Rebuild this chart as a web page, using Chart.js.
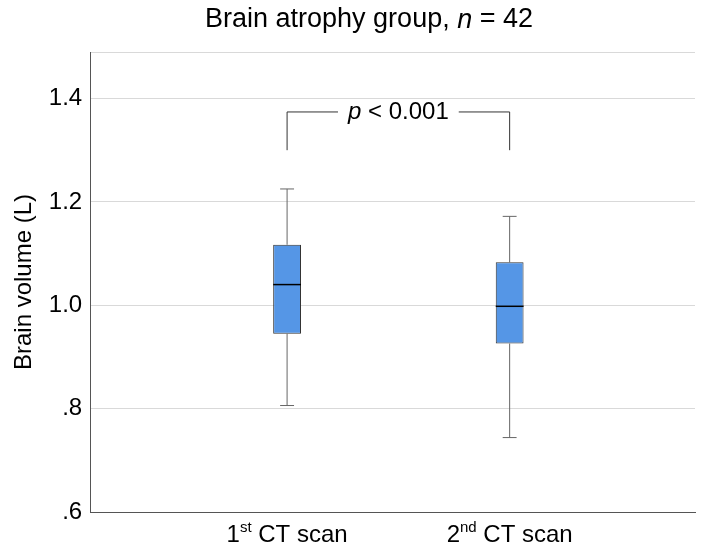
<!DOCTYPE html>
<html>
<head>
<meta charset="utf-8">
<script src="https://cdn.jsdelivr.net/npm/chart.js@4"></script>
<style>
  body { margin: 0; background: white; }
  #wrap { width: 709px; height: 553px; }
</style>
</head>
<body>
<div id="wrap"><canvas id="boxChart"></canvas></div>
<script>
// box plot values
var scans = ['1st CT scan', '2nd CT scan'];
var scanOrdinals = ['1', '2'];
var scanSuffixes = ['st', 'nd'];
var whiskerLow = [0.806, 0.744];
var quartile1 = [0.945, 0.926];
var medians = [1.040, 0.998];
var quartile3 = [1.117, 1.083];
var whiskerHigh = [1.225, 1.172];
var pText = 'p < 0.001';

Chart.defaults.font.family = "'Liberation Sans', Arial, sans-serif";
Chart.defaults.color = '#000';

// whiskers, medians, x labels, title and the p bracket
var boxExtras = {
    id: 'boxExtras',
    afterDatasetsDraw: function(chart) {
        var ctx = chart.ctx;
        var ys = chart.scales.y;
        var meta = chart.getDatasetMeta(0);
        ctx.save();
        for (var i = 0; i < scans.length; i++) {
            var bar = meta.data[i];
            var cx = bar.x, half = bar.width / 2;
            ctx.strokeStyle = '#666';
            ctx.lineWidth = 1;
            ctx.beginPath();
            ctx.moveTo(cx, ys.getPixelForValue(quartile3[i]));
            ctx.lineTo(cx, ys.getPixelForValue(whiskerHigh[i]));
            ctx.moveTo(cx, ys.getPixelForValue(quartile1[i]));
            ctx.lineTo(cx, ys.getPixelForValue(whiskerLow[i]));
            ctx.moveTo(cx - half / 2, ys.getPixelForValue(whiskerHigh[i]));
            ctx.lineTo(cx + half / 2, ys.getPixelForValue(whiskerHigh[i]));
            ctx.moveTo(cx - half / 2, ys.getPixelForValue(whiskerLow[i]));
            ctx.lineTo(cx + half / 2, ys.getPixelForValue(whiskerLow[i]));
            ctx.stroke();
            ctx.strokeStyle = '#000';
            ctx.lineWidth = 1.5;
            ctx.beginPath();
            ctx.moveTo(cx - half, ys.getPixelForValue(medians[i]));
            ctx.lineTo(cx + half, ys.getPixelForValue(medians[i]));
            ctx.stroke();

            // x label with superscript
            var ly = chart.chartArea.bottom + 30;
            ctx.fillStyle = '#000';
            ctx.textBaseline = 'alphabetic';
            ctx.font = "24px 'Liberation Sans', Arial, sans-serif";
            var w1 = ctx.measureText(scanOrdinals[i]).width;
            var rest = ' CT scan';
            var w3 = ctx.measureText(rest).width;
            ctx.font = "15px 'Liberation Sans', Arial, sans-serif";
            var w2 = ctx.measureText(scanSuffixes[i]).width;
            var x0 = cx - (w1 + w2 + w3) / 2;
            ctx.textAlign = 'left';
            ctx.font = "24px 'Liberation Sans', Arial, sans-serif";
            ctx.fillText(scanOrdinals[i], x0, ly);
            ctx.fillText(rest, x0 + w1 + w2, ly);
            ctx.font = "15px 'Liberation Sans', Arial, sans-serif";
            ctx.fillText(scanSuffixes[i], x0 + w1, ly - 10);
        }

        // significance bracket
        var xa = meta.data[0].x, xb = meta.data[1].x;
        var yTop = ys.getPixelForValue(1.374), yBot = ys.getPixelForValue(1.30);
        var mid = (xa + xb) / 2;
        ctx.font = "24px 'Liberation Sans', Arial, sans-serif";
        var pw = ctx.measureText(pText).width;
        ctx.strokeStyle = '#333';
        ctx.lineWidth = 1;
        ctx.beginPath();
        ctx.moveTo(xa, yBot); ctx.lineTo(xa, yTop); ctx.lineTo(mid - pw / 2 - 10, yTop);
        ctx.moveTo(mid + pw / 2 + 10, yTop); ctx.lineTo(xb, yTop); ctx.lineTo(xb, yBot);
        ctx.stroke();
        ctx.textAlign = 'left';
        ctx.textBaseline = 'middle';
        var px = mid - pw / 2;
        ctx.font = "italic 24px 'Liberation Sans', Arial, sans-serif";
        ctx.fillText('p', px, yTop);
        var pwid = ctx.measureText('p').width;
        ctx.font = "24px 'Liberation Sans', Arial, sans-serif";
        ctx.fillText(pText.slice(1), px + pwid, yTop);

        // title with italic n
        var tParts = ['Brain atrophy group, ', 'n', ' = 42'];
        ctx.font = "27px 'Liberation Sans', Arial, sans-serif";
        var a = ctx.measureText(tParts[0]).width, c = ctx.measureText(tParts[2]).width;
        ctx.font = "italic 27px 'Liberation Sans', Arial, sans-serif";
        var b = ctx.measureText(tParts[1]).width;
        var tx = 369 - (a + b + c) / 2;
        ctx.font = "27px 'Liberation Sans', Arial, sans-serif";
        ctx.fillText(tParts[0], tx, 20);
        ctx.fillText(tParts[2], tx + a + b, 20);
        ctx.font = "italic 27px 'Liberation Sans', Arial, sans-serif";
        ctx.fillText(tParts[1], tx + a, 20);
        ctx.restore();
    }
};

var boxData = scans.map(function(s, i) { return { x: i, y: [quartile1[i], quartile3[i]] }; });

var ctx_b = document.getElementById('boxChart').getContext('2d');
var box_chart = new Chart(ctx_b, {
    type: 'bar',
    data: {
        datasets: [{
            data: boxData,
            backgroundColor: '#5596e6',
            borderColor: '#333',
            borderWidth: 1,
            borderSkipped: false,
            barPercentage: 0.5,
            categoryPercentage: 0.5,
        }],
    },
    options: {
        responsive: true,
        maintainAspectRatio: false,
        animation: false,
        layout: { padding: { top: 52, right: 14, bottom: 33, left: 8 } },
        scales: {
            x: {
                type: 'linear',
                min: -0.613,
                max: 1.561,
                grid: { display: false },
                border: { color: '#555' },
                ticks: { display: false },
            },
            y: {
                min: 0.6,
                max: 1.49,
                border: { color: '#555' },
                grid: { color: '#d9d9d9', drawTicks: false },
                ticks: {
                    stepSize: 0.2,
                    padding: 8,
                    font: { size: 24 },
                    callback: function(v) {
                        if (v > 1.45) return '';
                        var s = v.toFixed(1);
                        return s.charAt(0) === '0' ? s.slice(1) : s;
                    },
                },
                title: { display: true, text: 'Brain volume (L)', font: { size: 24 }, padding: 2 },
            },
        },
        plugins: {
            legend: { display: false },
            tooltip: { enabled: false },
        },
    },
    plugins: [boxExtras],
});
</script>
</body>
</html>
